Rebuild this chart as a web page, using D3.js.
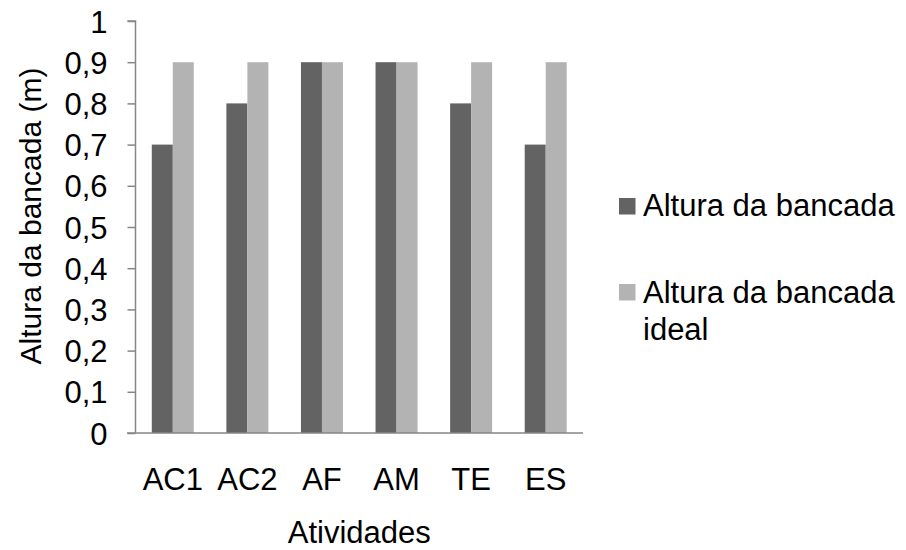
<!DOCTYPE html>
<html>
<head>
<meta charset="utf-8">
<script src="https://cdn.jsdelivr.net/npm/d3@7"></script>
<style>
html,body{margin:0;padding:0;background:#fff;}
svg{display:block;font-family:"Liberation Sans",Arial,sans-serif;}
</style>
</head>
<body>
<svg id="chart" width="906" height="550"></svg>
<script>
const categories = ["AC1","AC2","AF","AM","TE","ES"];
const seriesNames = ["Altura da bancada","Altura da bancada ideal"];
const alturaBancada = [0.7,0.8,0.9,0.9,0.8,0.7];
const alturaIdeal = [0.9,0.9,0.9,0.9,0.9,0.9];
const yTicks = [0,0.1,0.2,0.3,0.4,0.5,0.6,0.7,0.8,0.9,1];
const colors = ["#636363","#b3b3b3"];

const svg = d3.select("#chart");
const mLeft = 135.5, mRight = 583, mTop = 21, mBottom = 433;
const fs = 31;

const x = d3.scaleBand().domain(categories).range([mLeft,mRight]).paddingInner(0).paddingOuter(0);
const y = d3.scaleLinear().domain([0,1]).range([mBottom,mTop]);
const groupW = 42;
const x1 = d3.scaleBand().domain([0,1]).range([0,groupW]);

const series = [alturaBancada, alturaIdeal];

// bars
series.forEach((vals,si)=>{
  svg.append("g").selectAll("rect").data(vals).join("rect")
    .attr("x",(d,i)=>x(categories[i]) + x.bandwidth()/2 - groupW/2 + x1(si))
    .attr("y",d=>y(d))
    .attr("width",x1.bandwidth())
    .attr("height",d=>mBottom - y(d))
    .attr("fill",colors[si]);
});

// y axis
const yAxis = d3.axisLeft(y).tickValues(yTicks).tickSize(8).tickPadding(20)
  .tickFormat(d=> d===0 ? "0" : (d===1 ? "1" : d3.format(".1f")(d).replace(".",",")));
const ya = svg.append("g").attr("transform",`translate(${mLeft},0)`).call(yAxis);
ya.select(".domain").attr("stroke","#868686").attr("stroke-width",1.5).attr("d",`M-8,${mTop}H0V${mBottom}`);
ya.selectAll(".tick line").attr("stroke","#868686").attr("stroke-width",1.5);
ya.selectAll(".tick text").attr("font-size",fs).attr("fill","#000").attr("font-family","Liberation Sans, Arial, sans-serif").attr("dy","0.36em");

// x axis
const xAxis = d3.axisBottom(x).tickSize(0).tickPadding(36);
const xa = svg.append("g").attr("transform",`translate(0,${mBottom})`).call(xAxis);
xa.select(".domain").attr("stroke","#868686").attr("stroke-width",1.5).attr("d",`M${mLeft-8.5},0H${mRight}`);
xa.selectAll(".tick text").attr("font-size",fs).attr("fill","#000").attr("font-family","Liberation Sans, Arial, sans-serif").attr("dy","0").attr("y",57);

// axis titles
svg.append("text").attr("x",(mLeft+mRight)/2).attr("y",543).attr("text-anchor","middle")
  .attr("font-size",fs).text("Atividades");
svg.append("text").attr("transform",`translate(41,216) rotate(-90)`).attr("text-anchor","middle")
  .attr("font-size",fs - 1).text("Altura da bancada (m)");

// legend
const leg = svg.append("g");
const legItems = [
  {name:["Altura da bancada"], color:colors[0], sq:198, base:216},
  {name:["Altura da bancada","ideal"], color:colors[1], sq:284, base:303}
];
legItems.forEach(it=>{
  leg.append("rect").attr("x",619).attr("y",it.sq).attr("width",16.5).attr("height",16.5).attr("fill",it.color);
  const t = leg.append("text").attr("x",643).attr("y",it.base).attr("font-size",fs);
  it.name.forEach((ln,k)=>t.append("tspan").attr("x",643).attr("dy",k===0?0:37).text(ln));
});
</script>
</body>
</html>
